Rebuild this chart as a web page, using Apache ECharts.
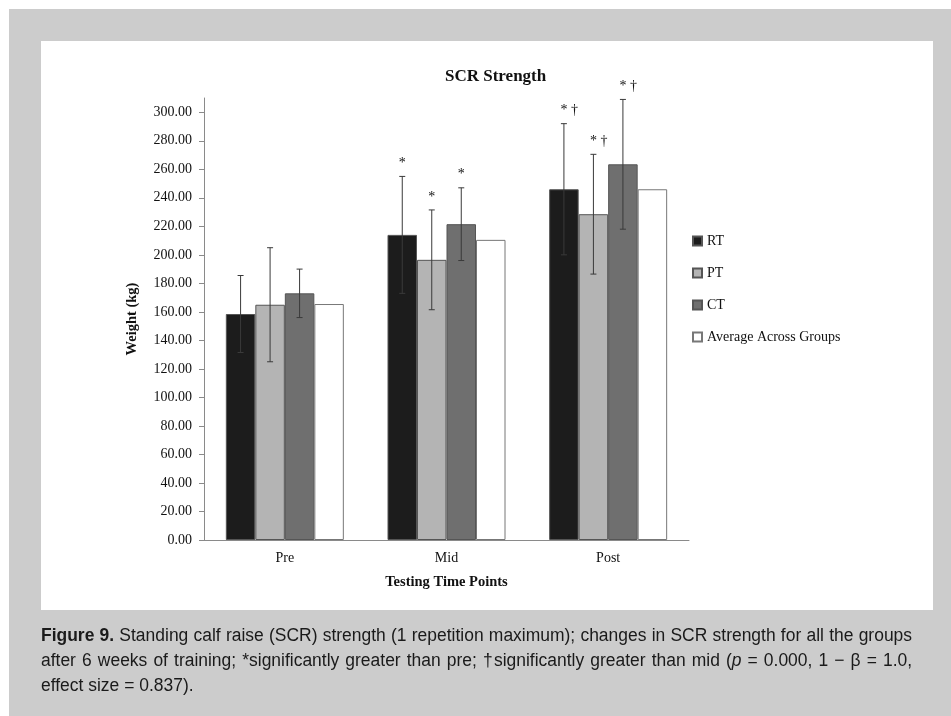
<!DOCTYPE html>
<html>
<head>
<meta charset="utf-8">
<script src="https://cdn.jsdelivr.net/npm/echarts@6/dist/echarts.min.js"></script>
<style>
  body { margin: 0; width: 951px; height: 716px; background: #fff; position: relative; overflow: hidden; }
  #frame { position: absolute; left: 9px; top: 9px; width: 960px; height: 720px; background: #cccccc; }
  #panel { position: absolute; left: 41px; top: 41px; width: 892px; height: 569px; background: #fff; }
  #main { position: absolute; left: 0; top: 0; width: 951px; height: 716px; }
  #caption { position: absolute; left: 41px; top: 623px; width: 898px; font-family: "Liberation Sans", Arial, sans-serif;
    font-size: 18px; line-height: 25px; color: #1a1a1a;
    transform: scaleX(0.97); transform-origin: 0 0; }
  #caption .ln { text-align: justify; text-align-last: justify; white-space: nowrap; }
  #caption .last { text-align: left; white-space: nowrap; }
</style>
</head>
<body>
<div id="frame"></div>
<div id="panel"></div>
<div id="main"></div>
<div id="caption">
  <div class="ln"><b>Figure 9.</b> Standing calf raise (SCR) strength (1 repetition maximum); changes in SCR strength for all the groups</div>
  <div class="ln">after 6 weeks of training; *significantly greater than pre; †significantly greater than mid (<i>p</i> = 0.000, 1 − β = 1.0,</div>
  <div class="last">effect size = 0.837).</div>
</div>
<script type="text/javascript">
	// 数据
	var categories = ['Pre', 'Mid', 'Post'];
	var groupNames = ['RT', 'PT', 'CT', 'Average Across Groups'];
	var rtMean = [158.5, 214, 246];
	var rtSD = [27, 41, 46];
	var ptMean = [165, 196.5, 228.5];
	var ptSD = [40, 35, 42];
	var ctMean = [173, 221.5, 263.5];
	var ctSD = [17, 25.5, 45.5];
	var avgMean = [165.5, 210.5, 246];
	var rtMarks = ['', '*', '* †'];
	var ptMarks = ['', '*', '* †'];
	var ctMarks = ['', '*', '* †'];
	var yTicks = [0, 20, 40, 60, 80, 100, 120, 140, 160, 180, 200, 220, 240, 260, 280, 300];

	var serif = 'Liberation Serif';
	var barW = 29.5;
	var colors = ['#1c1c1c', '#b4b4b4', '#6f6f6f', '#ffffff'];

	function errSeries(name, mean, sd, marks, idx) {
		var d = [];
		for (var i = 0; i < mean.length; i++) d.push([i, mean[i], sd[i]]);
		return {
			name : name,
			type : 'custom',
			data : d,
			z : 5,
			renderItem : function(params, api) {
				var c = api.value(0), m = api.value(1), s = api.value(2);
				var hi = api.coord([c, m + s]);
				var lo = api.coord([c, m - s]);
				var x = hi[0] + (idx - 1.5) * barW;
				var st = { stroke : '#3a3a3a', lineWidth : 1 };
				var ch = [
					{ type : 'line', shape : { x1 : x, y1 : hi[1], x2 : x, y2 : lo[1] }, style : st },
					{ type : 'line', shape : { x1 : x - 3, y1 : hi[1], x2 : x + 3, y2 : hi[1] }, style : st },
					{ type : 'line', shape : { x1 : x - 3, y1 : lo[1], x2 : x + 3, y2 : lo[1] }, style : st }
				];
				var mk = marks[params.dataIndex];
				if (mk) {
					ch.push({ type : 'text', x : x - 3.5, y : hi[1] - 13,
						style : { text : mk, fill : '#111', font : '14px ' + serif, align : 'left', verticalAlign : 'middle' } });
				}
				return { type : 'group', children : ch };
			}
		};
	}

	function barSeries(name, data, i) {
		return {
			name : name,
			type : 'bar',
			data : data,
			barWidth : barW,
			barGap : '0%',
			itemStyle : { color : colors[i], borderColor : i == 3 ? '#777' : '#555', borderWidth : 1 }
		};
	}

	var option = {
		animation : false,
		title : {
			text : 'SCR Strength',
			left : 440,
			top : 63,
			textStyle : { fontFamily : serif, fontSize : 17, fontWeight : 'bold', color : '#111' }
		},
		legend : {
			orient : 'vertical',
			left : 687,
			top : 229,
			itemWidth : 9,
			itemHeight : 9,
			itemGap : 18,
			icon : 'rect',
			data : groupNames,
			textStyle : { fontFamily : serif, fontSize : 14, color : '#111' }
		},
		grid : { left : 204, right : 262, top : 98, bottom : 176 },
		xAxis : {
			type : 'category',
			data : categories,
			name : 'Testing Time Points',
			nameLocation : 'middle',
			nameGap : 35,
			nameTextStyle : { fontFamily : serif, fontSize : 14.5, fontWeight : 'bold', color : '#111' },
			axisLine : { lineStyle : { color : '#8a8a8a' } },
			axisTick : { lineStyle : { color : '#8a8a8a' }, length : 5 },
			axisLabel : { fontFamily : serif, fontSize : 14, color : '#111', margin : 11 }
		},
		yAxis : {
			type : 'value',
			min : 0,
			max : 310,
			interval : 20,
			name : 'Weight (kg)',
			nameLocation : 'middle',
			nameGap : 64,
			nameTextStyle : { fontFamily : serif, fontSize : 14.5, fontWeight : 'bold', color : '#111' },
			axisLine : { show : true, lineStyle : { color : '#8a8a8a' } },
			axisTick : { show : true, length : 5, lineStyle : { color : '#8a8a8a' }, customValues : yTicks },
			axisLabel : { fontFamily : serif, fontSize : 14, color : '#111', margin : 12, customValues : yTicks,
				formatter : function(v) { return v.toFixed(2); } },
			splitLine : { show : false }
		},
		series : [
			barSeries('RT', rtMean, 0),
			barSeries('PT', ptMean, 1),
			barSeries('CT', ctMean, 2),
			barSeries('Average Across Groups', avgMean, 3),
			errSeries('RT err', rtMean, rtSD, rtMarks, 0),
			errSeries('PT err', ptMean, ptSD, ptMarks, 1),
			errSeries('CT err', ctMean, ctSD, ctMarks, 2)
		]
	};

	var chart = echarts.init(document.getElementById('main'));
	chart.setOption(option);
</script>
</body>
</html>
